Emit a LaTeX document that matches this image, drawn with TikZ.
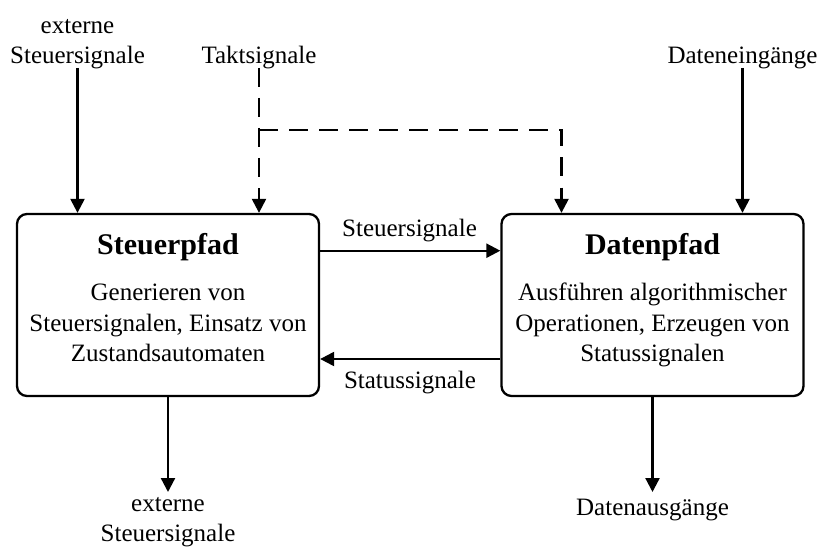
\documentclass[tikz,border=0pt]{standalone}
\usepackage{fontspec}
\setmainfont{Liberation Serif}
\usetikzlibrary{arrows.meta}
\tikzset{
  block/.style={draw, line width=2.3pt, rounded corners=10pt, minimum width=302pt, minimum height=182pt, inner sep=0pt},
  lbl/.style={inner sep=0pt, align=center, anchor=base, font=\fontsize{25}{30.5}\selectfont},
  title/.style={inner sep=0pt, anchor=base, font=\fontsize{30}{34}\selectfont\bfseries},
  flow/.style={line width=2.3pt, -{Triangle[length=14pt,width=14pt]}},
  clock/.style={line width=2.3pt, dash pattern=on 19pt off 11pt},
}
\begin{document}
\begin{tikzpicture}[x=1pt, y=-1pt]
  \useasboundingbox (0,0) rectangle (821,548);

  % the two blocks
  \node[block] (sbox) at (168,305) {};
  \node[block] (dbox) at (652.5,305) {};

  % block texts (multi-line nodes sit on the baseline of their last line)
  \node[title] (stitle) at (168,254) {Steuerpfad};
  \node[lbl] (stext) at (168,361.5) {Generieren von\\Steuersignalen, Einsatz von\\Zustandsautomaten};
  \node[title] (dtitle) at (652.5,254) {Datenpfad};
  \node[lbl] (dtext) at (652.5,361.5) {Ausführen algorithmischer\\Operationen, Erzeugen von\\Statussignalen};

  % inputs on top
  \node[lbl] (extin) at (77.5,64) {externe\\Steuersignale};
  \node[lbl] (takt) at (259,64) {Taktsignale};
  \node[lbl] (datin) at (742.5,64) {Dateneingänge};
  \coordinate (extin0) at (77.5,68);
  \coordinate (takt0) at (259,68);
  \coordinate (taktsplit) at (259,130);
  \coordinate (taktcorner) at (561.5,130);
  \coordinate (datin0) at (742.5,68);

  \draw[flow] (extin0) -- (extin0 |- sbox.north);
  \draw[flow, clock] (takt0) -- (takt0 |- sbox.north);
  \draw[flow, clock] (taktsplit) -- (taktcorner) -- (taktcorner |- dbox.north);
  \draw[flow] (datin0) -- (datin0 |- dbox.north);

  % signals between the blocks
  \coordinate (steuery) at (0,250.7);
  \coordinate (statusy) at (0,359);
  \draw[flow] (sbox.east |- steuery) -- (dbox.west |- steuery);
  \draw[flow] (dbox.west |- statusy) -- (sbox.east |- statusy);
  \node[lbl] (steuerlbl) at (409.5,236) {Steuersignale};
  \node[lbl] (statuslbl) at (410,388) {Statussignale};

  % outputs at the bottom
  \coordinate (extout0) at (168,492);
  \coordinate (datout0) at (652.5,492);
  \draw[flow] (sbox.south) -- (extout0);
  \draw[flow] (dbox.south) -- (datout0);
  \node[lbl] (extout) at (168,541.5) {externe\\Steuersignale};
  \node[lbl] (datout) at (652.5,515) {Datenausgänge};
\end{tikzpicture}
\end{document}
